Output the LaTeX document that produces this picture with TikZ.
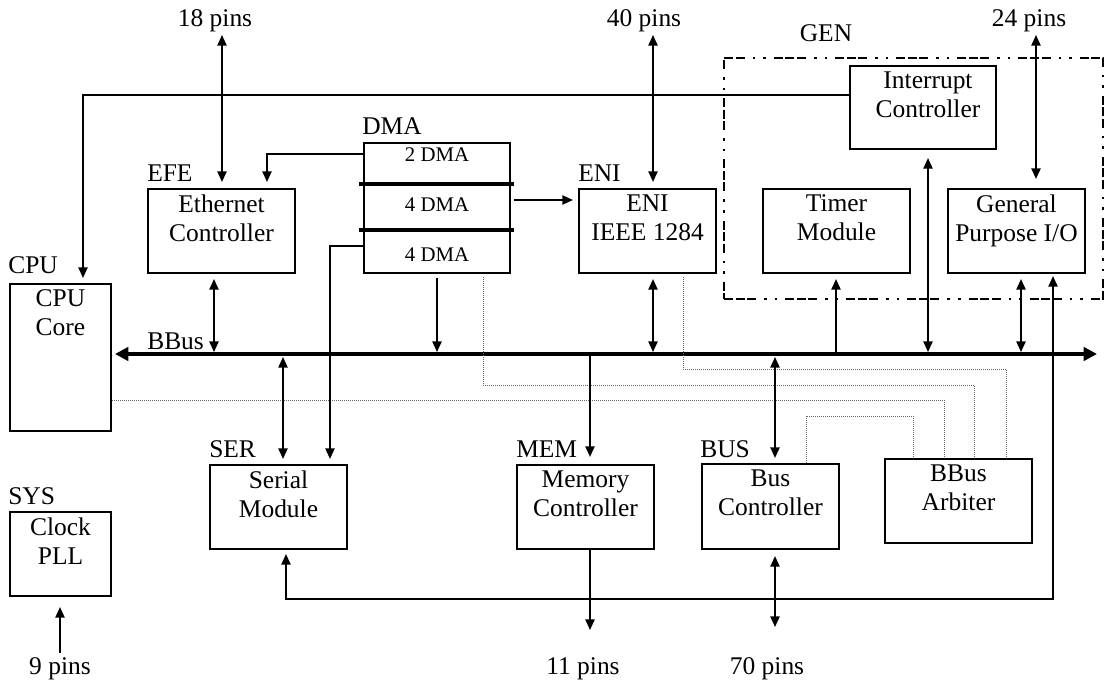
\documentclass[tikz,border=0pt]{standalone}
\usepackage{fontspec}
\setmainfont{Liberation Serif}
\usetikzlibrary{arrows.meta,fit}
\begin{document}
\begin{tikzpicture}[x=0.75pt,y=-0.75pt,
  blk/.style={draw, line width=1.6pt, inner sep=0pt},
  genbox/.style={draw, line width=1.4pt, inner sep=0pt,
    dash pattern=on 6.75pt off 1.9pt on 6.75pt off 1.9pt on 6.75pt off 6pt on 1.9pt off 6pt on 1.9pt off 6pt},
  txt/.style={inner sep=0pt, align=center, anchor=north, yshift=-4.6pt,
    font=\fontsize{19.1pt}{21.75pt}\selectfont},
  lbl/.style={inner sep=0pt, anchor=base west, font=\fontsize{19.1pt}{21.75pt}\selectfont},
  pin/.style={inner sep=0pt, anchor=base, font=\fontsize{19.1pt}{21.75pt}\selectfont},
  small/.style={inner sep=0pt, anchor=base, font=\fontsize{15.6pt}{18pt}\selectfont},
  arr/.style={line width=1.15pt},
  >={Triangle[length=8pt,width=7pt]},
  bustip/.tip={Triangle[length=10pt,width=10pt]},
  dots/.style={line width=0.65pt, black!60, dash pattern=on 0.6pt off 0.9pt},
  sep/.style={line width=3pt}
]
\useasboundingbox (0,0) rectangle (1106,680);

% ---------- blocks ----------
\node[blk, fit={(10,284)(111,431)}] (cpu) {};
\node[blk, fit={(10,512)(111,596)}] (sys) {};
\node[blk, fit={(148,189)(295,273)}] (efe) {};
\node[blk, fit={(364,143)(510,273)}] (dma) {};
\node[blk, fit={(579,189)(716,273)}] (eni) {};
\node[blk, fit={(763,189)(910,273)}] (tim) {};
\node[blk, fit={(948,189)(1085,273)}] (gpio) {};
\node[blk, fit={(850,66)(996,149)}] (irq) {};
\node[blk, fit={(210,465)(347,549)}] (ser) {};
\node[blk, fit={(517,465)(654,549)}] (mem) {};
\node[blk, fit={(702,464)(839,549)}] (busc) {};
\node[blk, fit={(885,459)(1032,543)}] (arb) {};
\node[genbox, fit={(724,58)(1103,299)}] (gen) {};

% ---------- block texts ----------
\node[txt] (cpu-t) at (cpu.north) {CPU\\Core};
\node[txt] (sys-t) at (sys.north) {Clock\\PLL};
\node[txt] (efe-t) at (efe.north) {Ethernet\\Controller};
\node[txt] (eni-t) at (eni.north) {ENI\\IEEE 1284};
\node[txt] (tim-t) at (tim.north) {Timer\\Module};
\node[txt] (gpio-t) at (gpio.north) {General\\Purpose I/O};
\node[txt, xshift=3.75pt] (irq-t) at (irq.north) {Interrupt\\Controller};
\node[txt] (ser-t) at (ser.north) {Serial\\Module};
\node[txt] (mem-t) at (mem.north) {Memory\\Controller};
\node[txt] (busc-t) at (busc.north) {Bus\\Controller};
\node[txt] (arb-t) at (arb.north) {BBus\\Arbiter};

% DMA channels
\node[small] (dma1) at (437,162) {2 DMA};
\node[small] (dma2) at (437,211.5) {4 DMA};
\node[small] (dma3) at (437,262) {4 DMA};
\draw[sep, shorten <=-3pt, shorten >=-2.25pt] (dma.west |- 0,184) -- (dma.east |- 0,184);
\draw[sep, shorten <=-3pt, shorten >=-2.25pt] (dma.west |- 0,230) -- (dma.east |- 0,230);

% ---------- labels ----------
\node[lbl] (l-efe) at (147,182) {EFE};
\node[lbl] (l-dma) at (362,135) {DMA};
\node[lbl] (l-eni) at (578,182) {ENI};
\node[lbl] (l-cpu) at (8,274) {CPU};
\node[lbl] (l-bbus) at (147,350) {BBus};
\node[lbl] (l-ser) at (209,458) {SER};
\node[lbl] (l-mem) at (516,458) {MEM};
\node[lbl] (l-bus) at (700,458) {BUS};
\node[lbl] (l-sys) at (8,504) {SYS};
\node[pin] (l-gen) at (826,42) {GEN};

\node[pin] (t18) at (215,27) {18 pins};
\node[pin] (t40) at (644,27) {40 pins};
\node[pin] (t24) at (1029,27) {24 pins};
\node[pin] (t9) at (60,674) {9 pins};
\node[pin] (t11) at (583,674) {11 pins};
\node[pin] (t70) at (767,674) {70 pins};

\coordinate (p18) at (222,35);
\coordinate (p40) at (653,35);
\coordinate (p24) at (1036,35);
\coordinate (p9) at (60,653);
\coordinate (p11) at (590,630);
\coordinate (p70) at (775,627);
\coordinate (busL) at (115,354);
\coordinate (busR) at (1097,354);
\coordinate (bl) at (1053,599);

% ---------- bus ----------
\draw[line width=3.3pt, bustip-bustip] (busL) -- (busR);

% ---------- dotted arbitration lines ----------
\draw[dots, shorten <=2.25pt] (483,0 |- dma.south) |- (974,385) -- (974,0 |- arb.north);
\draw[dots, shorten <=2.25pt] (683,0 |- eni.south) |- (1006,369) -- (1006,0 |- arb.north);
\draw[dots] (cpu.east |- 0,400) -| (944,0 |- arb.north);
\draw[dots] (806,0 |- busc.north) |- (913,416) -- (913,0 |- arb.north);

% ---------- connectors ----------
\draw[arr, <->, shorten >=4.5pt] (p18) -- (p18 |- efe.north);
\draw[arr, <->, shorten >=4.5pt] (p40) -- (p40 |- eni.north);
\draw[arr, <->, shorten >=6.75pt] (p24) -- (p24 |- gpio.north);
\draw[arr, ->, shorten >=3.75pt] (irq.west |- 0,95) -| (83,0 |- cpu.north);
\draw[arr, ->, shorten >=4.5pt] (dma.west |- 0,154) -| (267,0 |- efe.north);
\draw[arr, ->, shorten <=2.25pt, shorten >=3.75pt] (dma.east |- 0,200) -- (eni.west |- 0,200);
\draw[arr, ->, shorten >=3.75pt] (dma.west |- 0,246) -| (330,0 |- ser.north);

\draw[arr, <->, shorten <=3.75pt, shorten >=1.5pt] (214,0 |- efe.south) -- (214,0 |- busL);
\draw[arr, ->, shorten <=3pt, shorten >=1.5pt] (437,0 |- dma.south) -- (437,0 |- busL);
\draw[arr, <->, shorten <=3.75pt, shorten >=1.5pt] (653,0 |- eni.south) -- (653,0 |- busL);
\draw[arr, ->, shorten >=3.75pt] (836,0 |- busL) -- (836,0 |- tim.south);
\draw[arr, <->, shorten <=6pt, shorten >=1.5pt] (928,0 |- irq.south) -- (928,0 |- busL);
\draw[arr, <->, shorten <=3.75pt, shorten >=1.5pt] (1021,0 |- gpio.south) -- (1021,0 |- busL);

\draw[arr, <->, shorten <=2.25pt, shorten >=3.75pt] (283,0 |- busL) -- (283,0 |- ser.north);
\draw[arr, ->, shorten >=5.25pt] (590,0 |- busL) -- (590,0 |- mem.north);
\draw[arr, <->, shorten <=2.25pt, shorten >=3.75pt] (775,0 |- busL) -- (775,0 |- busc.north);

\draw[arr, <->, shorten <=3pt, shorten >=1.5pt] (286,0 |- ser.south) |- (bl) -- (bl |- gpio.south);
\draw[arr, ->] (590,0 |- mem.south) -- (p11);
\draw[arr, <->, shorten <=4.5pt] (775,0 |- busc.south) -- (p70);
\draw[arr, ->, shorten >=7.5pt] (p9) -- (p9 |- sys.south);
\end{tikzpicture}
\end{document}
